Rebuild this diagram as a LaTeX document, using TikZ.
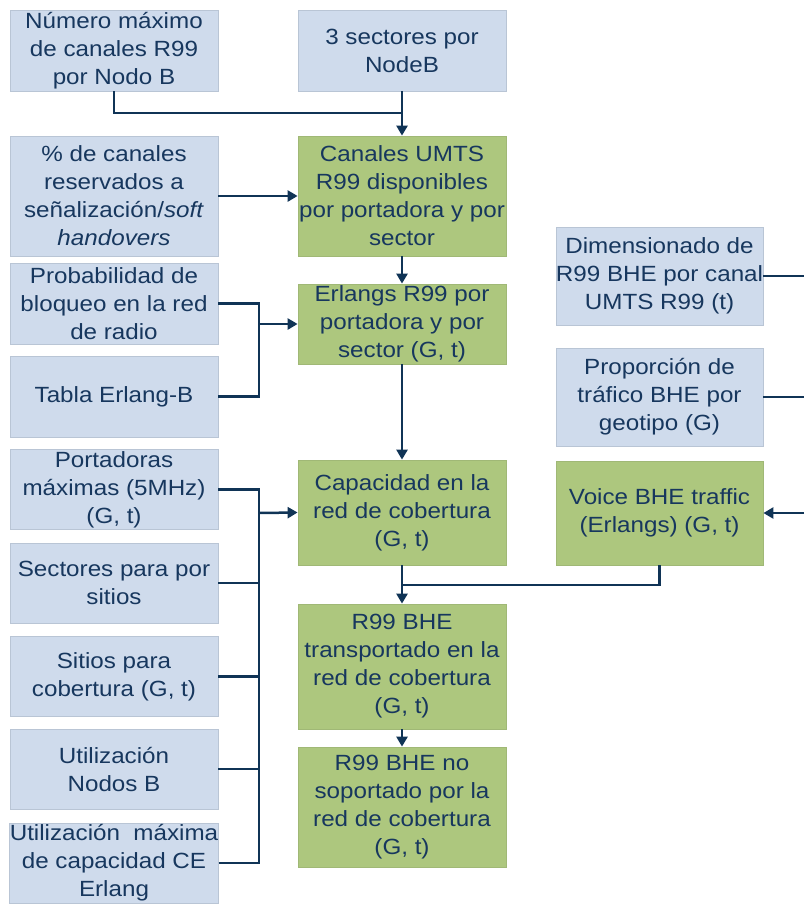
\documentclass[tikz,border=0pt]{standalone}
\usepackage{fontspec}
\setmainfont{Liberation Sans}[FakeStretch=1.1]
\usetikzlibrary{arrows.meta}
\definecolor{cInput}{RGB}{207,219,236}
\definecolor{cEdge}{RGB}{185,197,213}
\definecolor{cGreen}{RGB}{173,199,126}
\definecolor{cGreenEdge}{RGB}{160,184,118}
\definecolor{cLine}{RGB}{16,52,86}
\definecolor{cText}{RGB}{23,55,94}

\begin{document}
\begin{tikzpicture}[x=1pt,y=-1pt,
        inbox/.style={draw=cEdge,line width=0.8pt,fill=cInput,text=cText,align=center,
            minimum width=208pt,inner sep=0pt,font=\fontsize{22}{28}\selectfont},
        calcbox/.style={inbox,draw=cGreenEdge,fill=cGreen},
        conn/.style={draw=cLine,line width=2.5pt},
        arr/.style={conn,-{Triangle[length=10pt,width=11pt]}}]
    \useasboundingbox (0,0) rectangle (804,905);

    % inputs, left column
    \node[inbox,minimum height=81pt] (num) at (114,50.5) {Número máximo\\de canales R99\\por Nodo B};
    \node[inbox,minimum height=120pt] (pct) at (114,196) {\% de canales\\reservados a\\señalización/\textit{soft}\\\textit{handovers}};
    \node[inbox,minimum height=81pt] (prob) at (114,303.5) {Probabilidad de\\bloqueo en la red\\de radio};
    \node[inbox,minimum height=81pt] (tabla) at (114,396.5) {Tabla Erlang-B};
    \node[inbox,minimum height=80pt] (port) at (114,489.5) {Portadoras\\máximas (5MHz)\\(G, t)};
    \node[inbox,minimum height=80pt] (secs) at (114,583) {Sectores para por\\sitios};
    \node[inbox,minimum height=80pt] (sitios) at (114,676.5) {Sitios para\\cobertura (G, t)};
    \node[inbox,minimum height=80pt] (util) at (114,769) {Utilización\\Nodos B};
    \node[inbox,minimum height=80pt] (utilmax) at (114,863) {Utilización~ máxima\\de capacidad CE\\Erlang};

    % middle column
    \node[inbox,minimum height=81pt] (sect) at (402,50.5) {3 sectores por\\NodeB};
    \node[calcbox,minimum height=120pt] (canal) at (402,196) {Canales UMTS\\R99 disponibles\\por portadora y por\\sector};
    \node[calcbox,minimum height=80pt] (erl) at (402,324) {Erlangs R99 por\\portadora y por\\sector (G, t)};
    \node[calcbox,minimum height=105pt] (cap) at (402,512.5) {Capacidad en la\\red de cobertura\\(G, t)};
    \node[calcbox,minimum height=125pt] (trans) at (402,666.5) {R99 BHE\\transportado en la\\red de cobertura\\(G, t)};
    \node[calcbox,minimum height=120pt] (nosop) at (402,807) {R99 BHE no\\soportado por la\\red de cobertura\\(G, t)};

    % right column
    \node[inbox,minimum width=207pt,minimum height=98pt] (dim) at (659.5,276) {Dimensionado de\\R99 BHE por canal\\UMTS R99 (t)};
    \node[inbox,minimum width=207pt,minimum height=98pt] (prop) at (659.5,397) {Proporción de\\tráfico BHE por\\geotipo (G)};
    \node[calcbox,minimum width=207pt,minimum height=104pt] (voice) at (659.5,513) {Voice BHE traffic\\(Erlangs) (G, t)};

    % joints
    \coordinate (jtop) at (402,113);
    \coordinate (jerl) at (259,324);
    \coordinate (jcap) at (259,513);
    \coordinate (jvoice) at (402,585);
    \coordinate (odim) at (804,276);
    \coordinate (oprop) at (804,397);
    \coordinate (ovoice) at (804,513);

    \draw[conn] (num.south) |- (jtop);
    \draw[arr] (sect.south) -- (canal.north);
    \draw[arr] (pct.east) -- (canal.west);
    \draw[arr] (canal.south) -- (erl.north);

    \draw[conn] (prob.east) -| (jerl);
    \draw[conn] (tabla.east) -| (jerl);
    \draw[arr] (jerl) -- (erl.west);
    \draw[arr] (erl.south) -- (cap.north);

    \draw[conn] (port.east) -| (jcap);
    \draw[conn] (utilmax.east) -| (jcap);
    \draw[conn] (secs.east) -- (secs.east -| jcap);
    \draw[conn] (sitios.east) -- (sitios.east -| jcap);
    \draw[conn] (util.east) -- (util.east -| jcap);
    \draw[arr] (jcap) -- (cap.west);

    \draw[arr] (cap.south) -- (trans.north);
    \draw[conn] (voice.south) |- (jvoice);
    \draw[arr] (trans.south) -- (nosop.north);

    \draw[conn] (dim.east) -- (odim);
    \draw[conn] (prop.east) -- (oprop);
    \draw[arr] (ovoice) -- (voice.east);
\end{tikzpicture}
\end{document}
